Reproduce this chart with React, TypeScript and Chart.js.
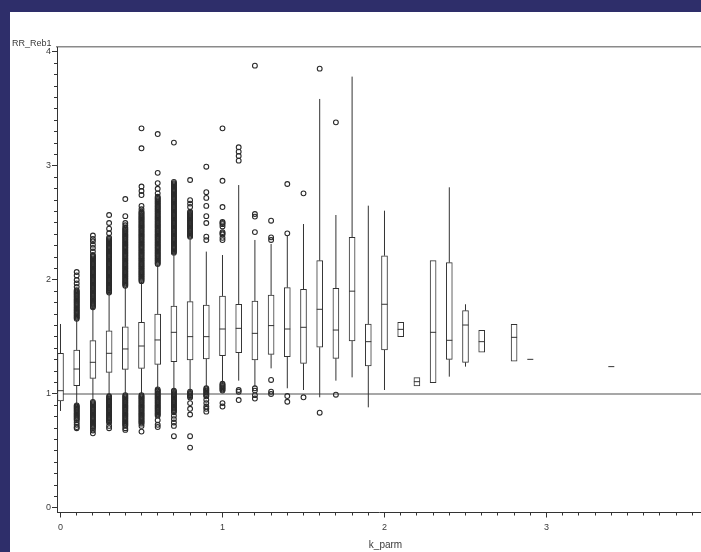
import React, { useEffect, useRef } from 'react';
import { Chart, registerables } from 'chart.js';

Chart.register(...registerables);

// ---- data ----
const kParm = [0, 0.1, 0.2, 0.3, 0.4, 0.5, 0.6, 0.7, 0.8, 0.9, 1.0, 1.1, 1.2, 1.3, 1.4, 1.5, 1.6, 1.7, 1.8, 1.9, 2.0, 2.1, 2.2, 2.3, 2.4, 2.5, 2.6, 2.8, 2.9, 3.4];
const whiskerLow = [0.851, 0.909, 0.939, 0.991, 1.006, 1.006, 1.05, 1.04, 1.03, 1.064, 1.11, 1.117, 1.064, 1.225, 1.05, 1.035, 0.971, 1.117, 1.146, 0.883, 1.035, null, null, null, 1.152, 1.24, null, null, null, null];
const q1Values = [0.939, 1.073, 1.137, 1.19, 1.216, 1.225, 1.26, 1.283, 1.298, 1.307, 1.336, 1.363, 1.298, 1.348, 1.327, 1.269, 1.41, 1.313, 1.465, 1.246, 1.386, 1.503, 1.07, 1.099, 1.304, 1.278, 1.366, 1.287, 1.304, 1.24];
const medianValues = [1.029, 1.219, 1.278, 1.357, 1.395, 1.421, 1.474, 1.541, 1.503, 1.503, 1.57, 1.576, 1.532, 1.6, 1.57, 1.585, 1.743, 1.561, 1.902, 1.459, 1.787, 1.567, 1.108, 1.541, 1.471, 1.605, 1.459, 1.497, 1.304, 1.24];
const q3Values = [1.357, 1.386, 1.468, 1.553, 1.59, 1.629, 1.702, 1.772, 1.81, 1.781, 1.86, 1.787, 1.816, 1.868, 1.933, 1.918, 2.17, 1.927, 2.374, 1.614, 2.213, 1.629, 1.143, 2.17, 2.152, 1.731, 1.559, 1.611, 1.304, 1.24];
const whiskerHigh = [1.614, 1.649, 1.752, 1.883, 1.94, 1.985, 2.132, 2.234, 2.366, 2.249, 2.219, 2.833, 2.351, 2.316, 2.39, 2.491, 3.588, 2.57, 3.784, 2.652, 2.608, null, null, null, 2.813, 1.787, null, null, null, null];

const outliersK01 = [2.07, 2.04, 2.00, 1.97, 1.94, 1.91, 1.90, 1.89, 1.88, 1.87, 1.86, 1.85, 1.84, 1.83, 1.82, 1.81, 1.80, 1.79, 1.78, 1.77, 1.76, 1.75, 1.74, 1.73, 1.72, 1.71, 1.70, 1.69, 1.68, 1.67, 1.66,
  0.90, 0.89, 0.88, 0.87, 0.86, 0.85, 0.84, 0.83, 0.82, 0.81, 0.80, 0.79, 0.78, 0.77, 0.75, 0.73, 0.71, 0.70];
const outliersK02 = [2.39, 2.36, 2.34, 2.31, 2.28, 2.25, 2.22, 2.21, 2.20, 2.19, 2.18, 2.17, 2.16, 2.15, 2.14, 2.13, 2.12, 2.11, 2.10, 2.09, 2.08, 2.07, 2.06, 2.05, 2.04, 2.03, 2.02, 2.01, 2.00, 1.99, 1.98, 1.97, 1.96, 1.95, 1.94, 1.93, 1.92, 1.91, 1.90, 1.89, 1.88, 1.87, 1.86, 1.85, 1.84, 1.83, 1.82, 1.81, 1.80, 1.79, 1.78, 1.77, 1.76,
  0.93, 0.92, 0.91, 0.90, 0.89, 0.88, 0.87, 0.86, 0.85, 0.84, 0.83, 0.82, 0.81, 0.80, 0.79, 0.78, 0.77, 0.76, 0.75, 0.74, 0.73, 0.72, 0.71, 0.70, 0.68, 0.655];
const outliersK03 = [2.57, 2.50, 2.45, 2.41, 2.37, 2.36, 2.35, 2.34, 2.33, 2.32, 2.31, 2.30, 2.29, 2.28, 2.27, 2.26, 2.25, 2.24, 2.23, 2.22, 2.21, 2.20, 2.19, 2.18, 2.17, 2.16, 2.15, 2.14, 2.13, 2.12, 2.11, 2.10, 2.09, 2.08, 2.07, 2.06, 2.05, 2.04, 2.03, 2.02, 2.01, 2.00, 1.99, 1.98, 1.97, 1.96, 1.95, 1.94, 1.93, 1.92, 1.91, 1.90, 1.89,
  0.98, 0.97, 0.96, 0.95, 0.94, 0.93, 0.92, 0.91, 0.90, 0.89, 0.88, 0.87, 0.86, 0.85, 0.84, 0.83, 0.82, 0.81, 0.80, 0.79, 0.78, 0.77, 0.76, 0.75, 0.72, 0.70];
const outliersK04 = [2.71, 2.56, 2.50, 2.48, 2.46, 2.45, 2.44, 2.43, 2.42, 2.41, 2.40, 2.39, 2.38, 2.37, 2.36, 2.35, 2.34, 2.33, 2.32, 2.31, 2.30, 2.29, 2.28, 2.27, 2.26, 2.25, 2.24, 2.23, 2.22, 2.21, 2.20, 2.19, 2.18, 2.17, 2.16, 2.15, 2.14, 2.13, 2.12, 2.11, 2.10, 2.09, 2.08, 2.07, 2.06, 2.05, 2.04, 2.03, 2.02, 2.01, 2.00, 1.99, 1.98, 1.97, 1.96, 1.95,
  0.99, 0.98, 0.97, 0.96, 0.95, 0.94, 0.93, 0.92, 0.91, 0.90, 0.89, 0.88, 0.87, 0.86, 0.85, 0.84, 0.83, 0.82, 0.81, 0.80, 0.79, 0.78, 0.77, 0.76, 0.75, 0.74, 0.73, 0.72, 0.70, 0.685];
const outliersK05 = [3.33, 3.155, 2.82, 2.78, 2.745, 2.65, 2.62, 2.60, 2.59, 2.58, 2.57, 2.56, 2.55, 2.54, 2.53, 2.52, 2.51, 2.50, 2.49, 2.48, 2.47, 2.46, 2.45, 2.44, 2.43, 2.42, 2.41, 2.40, 2.39, 2.38, 2.37, 2.36, 2.35, 2.34, 2.33, 2.32, 2.31, 2.30, 2.29, 2.28, 2.27, 2.26, 2.25, 2.24, 2.23, 2.22, 2.21, 2.20, 2.19, 2.18, 2.17, 2.16, 2.15, 2.14, 2.13, 2.12, 2.11, 2.10, 2.09, 2.08, 2.07, 2.06, 2.05, 2.04, 2.03, 2.02, 2.01, 2.00, 1.99,
  0.99, 0.98, 0.97, 0.96, 0.95, 0.94, 0.93, 0.92, 0.91, 0.90, 0.89, 0.88, 0.87, 0.86, 0.85, 0.84, 0.83, 0.82, 0.81, 0.80, 0.79, 0.78, 0.77, 0.76, 0.75, 0.74, 0.72, 0.67];
const outliersK06 = [3.28, 2.94, 2.85, 2.80, 2.76, 2.73, 2.72, 2.71, 2.70, 2.69, 2.68, 2.67, 2.66, 2.65, 2.64, 2.63, 2.62, 2.61, 2.60, 2.59, 2.58, 2.57, 2.56, 2.55, 2.54, 2.53, 2.52, 2.51, 2.50, 2.49, 2.48, 2.47, 2.46, 2.45, 2.44, 2.43, 2.42, 2.41, 2.40, 2.39, 2.38, 2.37, 2.36, 2.35, 2.34, 2.33, 2.32, 2.31, 2.30, 2.29, 2.28, 2.27, 2.26, 2.25, 2.24, 2.23, 2.22, 2.21, 2.20, 2.19, 2.18, 2.17, 2.16, 2.15, 2.14,
  1.04, 1.03, 1.02, 1.01, 1.00, 0.99, 0.98, 0.97, 0.96, 0.95, 0.94, 0.93, 0.92, 0.91, 0.90, 0.89, 0.88, 0.87, 0.86, 0.85, 0.84, 0.83, 0.82, 0.81, 0.77, 0.73, 0.71];
const outliersK07 = [3.205, 2.86, 2.85, 2.84, 2.83, 2.82, 2.81, 2.80, 2.79, 2.78, 2.77, 2.76, 2.75, 2.74, 2.73, 2.72, 2.71, 2.70, 2.69, 2.68, 2.67, 2.66, 2.65, 2.64, 2.63, 2.62, 2.61, 2.60, 2.59, 2.58, 2.57, 2.56, 2.55, 2.54, 2.53, 2.52, 2.51, 2.50, 2.49, 2.48, 2.47, 2.46, 2.45, 2.44, 2.43, 2.42, 2.41, 2.40, 2.39, 2.38, 2.37, 2.36, 2.35, 2.34, 2.33, 2.32, 2.31, 2.30, 2.29, 2.28, 2.27, 2.26, 2.25, 2.24,
  1.03, 1.02, 1.01, 1.00, 0.99, 0.98, 0.97, 0.96, 0.95, 0.94, 0.93, 0.92, 0.91, 0.90, 0.89, 0.88, 0.87, 0.86, 0.85, 0.84, 0.81, 0.78, 0.75, 0.72, 0.63];
const outliersK08 = [2.877, 2.70, 2.67, 2.64, 2.60, 2.59, 2.58, 2.57, 2.56, 2.55, 2.54, 2.53, 2.52, 2.51, 2.50, 2.49, 2.48, 2.47, 2.46, 2.45, 2.44, 2.43, 2.42, 2.41, 2.40, 2.39, 2.38,
  1.02, 1.01, 1.00, 0.99, 0.98, 0.97, 0.92, 0.87, 0.82, 0.63, 0.53];
const outliersK09 = [2.994, 2.77, 2.72, 2.65, 2.56, 2.50, 2.38, 2.35,
  1.05, 1.04, 1.03, 1.02, 1.01, 1.00, 0.99, 0.98, 0.95, 0.92, 0.89, 0.87, 0.845];
const outliersK10 = [3.33, 2.87, 2.64, 2.51, 2.50, 2.49, 2.47, 2.42, 2.41, 2.40, 2.37, 2.35,
  1.09, 1.08, 1.07, 1.06, 1.05, 1.04, 1.03, 0.92, 0.89];

const outlierValues: number[][] = [
  [],
  outliersK01,
  outliersK02,
  outliersK03,
  outliersK04,
  outliersK05,
  outliersK06,
  outliersK07,
  outliersK08,
  outliersK09,
  outliersK10,
  [3.164, 3.126, 3.088, 3.047, 1.035, 1.02, 0.947],
  [3.88, 2.579, 2.556, 2.42, 1.05, 1.03, 0.99, 0.96],
  [2.52, 2.374, 2.351, 1.123, 1.02, 1.0],
  [2.842, 2.409, 0.982, 0.932],
  [2.76, 0.971],
  [3.854, 0.836],
  [3.383, 0.994],
  [], [], [], [], [], [], [], [], [], [], [], [],
];

const referenceLevel = 1;
const xTickLabels = ['0', '1', '2', '3'];
const yTickLabels = ['0', '1', '2', '3', '4'];
const xAxisTitle = 'k_parm';
const yAxisTitle = 'RR_Reb1';

// ---- axis ranges ----
const X_MIN = -0.0216;
const X_MAX = 3.9537;
const Y_MIN = -0.0395;
const Y_MAX = 4.0438;

const FONT = '"Liberation Sans", Arial, sans-serif';
const INK = '#333333';

const decorPlugin = {
  id: 'decor',
  afterDraw(chart: any) {
    const { ctx, chartArea, scales } = chart;
    const xs = scales.x;
    const ys = scales.y;
    ctx.save();
    ctx.strokeStyle = INK;
    ctx.lineWidth = 1;
    ctx.beginPath();
    for (let i = 1; i < 40; i++) {
      if (i % 10 === 0) continue;
      const px = Math.round(xs.getPixelForValue(i / 10) - 0.5) + 0.5;
      ctx.moveTo(px, chartArea.bottom);
      ctx.lineTo(px, chartArea.bottom + 3);
    }
    for (let i = 1; i < 40; i++) {
      if (i % 10 === 0) continue;
      const py = Math.round(ys.getPixelForValue(i / 10) - 0.5) + 0.5;
      ctx.moveTo(chartArea.left, py);
      ctx.lineTo(chartArea.left - 3, py);
    }
    ctx.stroke();
    ctx.fillStyle = '#3a3a3a';
    ctx.font = `9px ${FONT}`;
    ctx.textAlign = 'left';
    ctx.textBaseline = 'middle';
    ctx.fillText(yAxisTitle, 12, 44);
    ctx.font = `10px ${FONT}`;
    ctx.textAlign = 'center';
    ctx.fillText(xAxisTitle, xs.getPixelForValue(2) + 1, 545.5);
    ctx.restore();
  },
};

export default function App() {
  const canvasRef = useRef<HTMLCanvasElement | null>(null);

  useEffect(() => {
    const canvas = canvasRef.current;
    if (!canvas) return;

    const boxData = kParm.map((k, i) => ({ x: k, y: [q1Values[i], q3Values[i]] }));
    const medianData = kParm.map((k, i) => ({ x: k, y: medianValues[i] }));
    const whiskerData: { x: number; y: number | null }[] = [];
    kParm.forEach((k, i) => {
      const lo = whiskerLow[i];
      const hi = whiskerHigh[i];
      if (lo !== null) {
        whiskerData.push({ x: k, y: lo }, { x: k, y: q1Values[i] }, { x: k, y: null });
      }
      if (hi !== null) {
        whiskerData.push({ x: k, y: q3Values[i] }, { x: k, y: hi }, { x: k, y: null });
      }
    });
    const outlierData: { x: number; y: number }[] = [];
    kParm.forEach((k, i) => {
      (outlierValues[i] || []).forEach((v) => outlierData.push({ x: k, y: v }));
    });

    const noPad = (scale: any) => {
      scale.paddingLeft = 0;
      scale.paddingRight = 0;
    };

    const chart = new Chart(canvas, {
      type: 'scatter',
      data: {
        datasets: [
          {
            type: 'line',
            label: 'reference',
            data: [
              { x: X_MIN, y: referenceLevel },
              { x: X_MAX, y: referenceLevel },
            ],
            borderColor: '#8a8a8a',
            borderWidth: 1.5,
            pointRadius: 0,
            order: 4,
          } as any,
          {
            type: 'line',
            label: 'whiskers',
            data: whiskerData,
            borderColor: INK,
            borderWidth: 1,
            pointRadius: 0,
            spanGaps: false,
            order: 3,
          } as any,
          {
            type: 'bar',
            label: 'boxes',
            data: boxData,
            backgroundColor: '#ffffff',
            borderColor: INK,
            borderWidth: 1,
            borderSkipped: false,
            barThickness: 6,
            maxBarThickness: 6,
            order: 2,
          } as any,
          {
            type: 'scatter',
            label: 'median',
            data: medianData,
            pointStyle: 'line',
            pointRadius: 3,
            borderColor: INK,
            borderWidth: 1,
            order: 0,
          } as any,
          {
            type: 'scatter',
            label: 'outliers',
            data: outlierData,
            pointStyle: 'circle',
            pointRadius: 2.4,
            borderWidth: 1.1,
            borderColor: '#2a2a2a',
            backgroundColor: 'rgba(0,0,0,0)',
            order: 1,
          } as any,
        ],
      },
      options: {
        responsive: false,
        animation: false,
        events: [],
        layout: { autoPadding: false, padding: { top: 47, left: 0, right: 0, bottom: 0 } },
        plugins: {
          legend: { display: false },
          tooltip: { enabled: false },
        },
        scales: {
          x: {
            type: 'linear',
            position: 'bottom',
            offset: false,
            min: X_MIN,
            max: X_MAX,
            afterBuildTicks: (scale: any) => {
              scale.ticks = xTickLabels.map((l) => ({ value: Number(l) }));
            },
            afterFit: (scale: any) => {
              scale.height = 39.5;
              noPad(scale);
            },
            ticks: {
              autoSkip: false,
              maxRotation: 0,
              padding: 5,
              color: '#3a3a3a',
              font: { family: FONT, size: 9 },
              callback: (_v: any, index: number) => xTickLabels[index],
            },
            grid: { offset: false, drawOnChartArea: false, drawTicks: true, tickLength: 5, color: INK },
            border: { display: true, color: INK, width: 1 },
          },
          xTop: {
            type: 'linear',
            position: 'top',
            offset: false,
            min: X_MIN,
            max: X_MAX,
            afterFit: (scale: any) => {
              scale.height = 0;
              noPad(scale);
            },
            ticks: { display: false },
            grid: { display: false, offset: false },
            border: { display: true, color: '#8a8a8a', width: 1.5 },
          },
          y: {
            type: 'linear',
            position: 'left',
            min: Y_MIN,
            max: Y_MAX,
            afterBuildTicks: (scale: any) => {
              scale.ticks = yTickLabels.map((l) => ({ value: Number(l) }));
            },
            afterFit: (scale: any) => {
              scale.width = 57;
              scale.paddingTop = 0;
              scale.paddingBottom = 0;
            },
            ticks: {
              autoSkip: false,
              padding: 1,
              color: '#3a3a3a',
              font: { family: FONT, size: 9 },
              callback: (_v: any, index: number) => yTickLabels[index],
            },
            grid: { drawOnChartArea: false, drawTicks: true, tickLength: 5, color: INK },
            border: { display: true, color: INK, width: 1 },
          },
        },
      } as any,
      plugins: [decorPlugin],
    });

    return () => {
      chart.destroy();
    };
  }, []);

  return (
    <div
      style={{
        position: 'fixed',
        left: 0,
        top: 0,
        width: 701,
        height: 552,
        background: '#2e2e6a',
        overflow: 'hidden',
      }}
    >
      <div
        style={{
          position: 'absolute',
          left: 10,
          top: 12,
          right: 0,
          bottom: 0,
          background: '#ffffff',
        }}
      />
      <canvas
        ref={canvasRef}
        width={701}
        height={552}
        style={{ position: 'absolute', left: 0, top: 0, width: 701, height: 552 }}
      />
    </div>
  );
}
